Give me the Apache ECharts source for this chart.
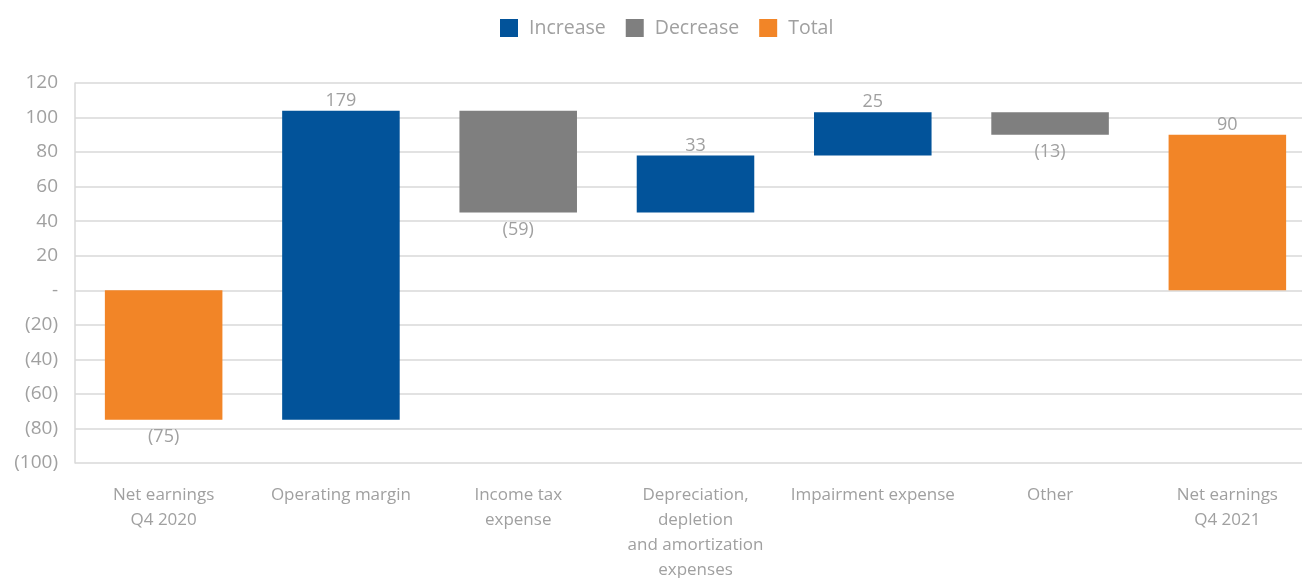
<!DOCTYPE html>
<html>
<head>
<meta charset="utf-8">
<script src="https://cdn.jsdelivr.net/npm/echarts@6/dist/echarts.min.js"></script>
<style>
  html, body { margin: 0; padding: 0; background: #fff; }
  #chart { width: 1302px; height: 578px; }
</style>
</head>
<body>
<div id="chart"></div>
<script>
// Earnings bridge, Q4 2020 to Q4 2021
const categories = [
  'Net earnings\nQ4 2020',
  'Operating margin',
  'Income tax\nexpense',
  'Depreciation,\ndepletion\nand amortization\nexpenses',
  'Impairment expense',
  'Other',
  'Net earnings\nQ4 2021'
];
const openingTotal = -75;
const changes = [179, -59, 33, 25, -13];
const closingTotal = 90;
const yTicks = { min: -100, max: 120, interval: 20 };

const COLORS = { inc: '#02539a', dec: '#7f7f7f', tot: '#f28527' };
const TEXT = '#a0a0a0';
const FONT = "'Open Sans', 'Noto Sans', sans-serif";

const fmt = v => v === 0 ? '-' : (v < 0 ? '(' + Math.abs(v) + ')' : String(v));

// Build [categoryIndex, low, high, value] rows for each kind of bar
const incData = [], decData = [], totData = [];
totData.push([0, Math.min(0, openingTotal), Math.max(0, openingTotal), openingTotal]);
let running = openingTotal;
changes.forEach((d, i) => {
  const next = running + d;
  const row = [i + 1, Math.min(running, next), Math.max(running, next), d];
  (d >= 0 ? incData : decData).push(row);
  running = next;
});
totData.push([categories.length - 1, Math.min(0, closingTotal), Math.max(0, closingTotal), closingTotal]);

function renderBar(params, api) {
  const idx = api.value(0);
  const low = api.value(1), high = api.value(2), val = api.value(3);
  const top = api.coord([idx, high]);
  const bottom = api.coord([idx, low]);
  const w = api.size([1, 0])[0] * 0.663;
  const x = top[0] - w / 2;
  const above = val >= 0;
  return {
    type: 'group',
    children: [
      {
        type: 'rect',
        shape: { x: x, y: top[1], width: w, height: bottom[1] - top[1] },
        style: { fill: api.visual('color') }
      },
      {
        type: 'text',
        style: {
          text: fmt(val),
          x: top[0],
          y: above ? top[1] - 1 : bottom[1] + 8,
          align: 'center',
          verticalAlign: above ? 'bottom' : 'top',
          fill: TEXT,
          font: '18px ' + FONT
        }
      }
    ]
  };
}

function barSeries(name, color, data) {
  return {
    name: name,
    type: 'custom',
    renderItem: renderBar,
    itemStyle: { color: color },
    encode: { x: 0, y: [1, 2] },
    data: data
  };
}

const chart = echarts.init(document.getElementById('chart'));
chart.setOption({
  animation: false,
  textStyle: { fontFamily: FONT },
  legend: {
    top: 13,
    left: 495,
    icon: 'rect',
    itemWidth: 18,
    itemHeight: 18,
    itemGap: 20,
    textStyle: { color: TEXT, fontSize: 19.5, fontFamily: FONT, padding: [0, 0, 0, 6] },
    data: ['Increase', 'Decrease', 'Total']
  },
  grid: {
    left: 75, top: 83, width: 1241, bottom: 115,
    containLabel: false,
    outerBoundsMode: 'none'
  },
  xAxis: {
    type: 'category',
    data: categories,
    axisLine: { show: false },
    axisTick: { show: false },
    axisLabel: {
      interval: 0,
      color: TEXT,
      fontSize: 17,
      lineHeight: 25,
      margin: 20,
      fontFamily: FONT
    }
  },
  yAxis: {
    type: 'value',
    min: yTicks.min,
    max: yTicks.max,
    interval: yTicks.interval,
    axisLine: { show: true, lineStyle: { color: '#d9d9d9', width: 1.5 } },
    axisTick: { show: false },
    splitLine: { lineStyle: { color: '#d9d9d9', width: 1.5 } },
    axisLabel: {
      color: TEXT,
      fontSize: 19,
      margin: 17,
      fontFamily: FONT,
      formatter: fmt
    }
  },
  series: [
    barSeries('Increase', COLORS.inc, incData),
    barSeries('Decrease', COLORS.dec, decData),
    barSeries('Total', COLORS.tot, totData)
  ]
});
</script>
</body>
</html>
